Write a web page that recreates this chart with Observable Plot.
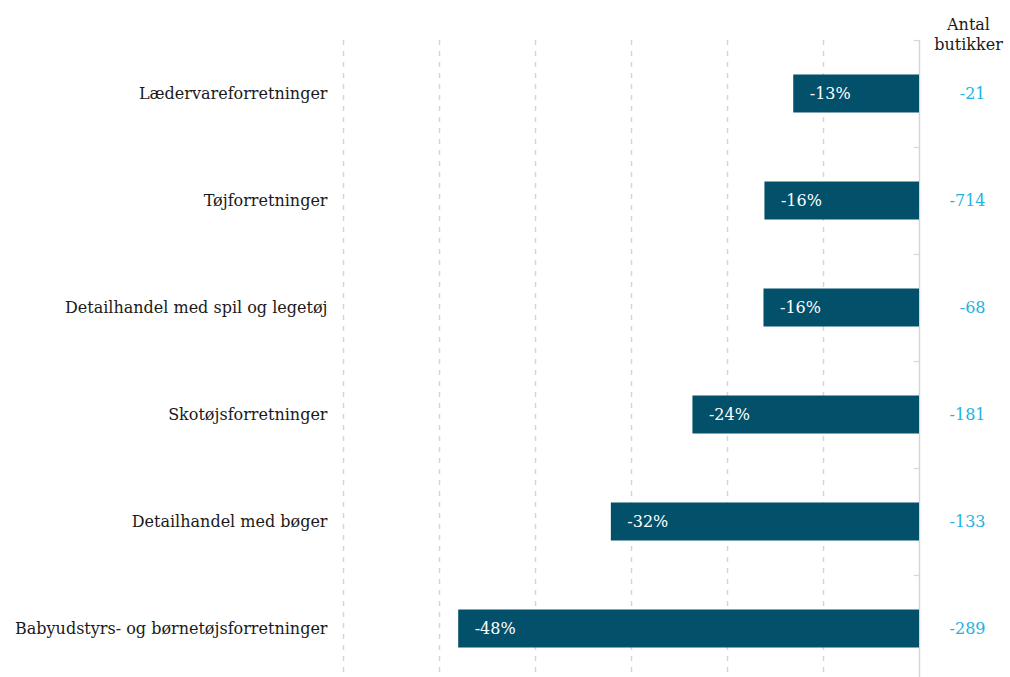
<!DOCTYPE html>
<html>
<head>
<meta charset="utf-8">
<script src="https://cdn.jsdelivr.net/npm/d3@7"></script>
<script src="https://cdn.jsdelivr.net/npm/@observablehq/plot@0.6"></script>
<style>
  html, body { margin: 0; padding: 0; background: #fff; overflow: hidden; }
  #chart svg { display: block; }
</style>
</head>
<body>
<div id="chart"></div>
<script>
const categories = [
  "Lædervareforretninger",
  "Tøjforretninger",
  "Detailhandel med spil og legetøj",
  "Skotøjsforretninger",
  "Detailhandel med bøger",
  "Babyudstyrs- og børnetøjsforretninger"
];
const changePct = [-13.1, -16.1, -16.2, -23.6, -32.1, -48.0];
const pctLabels = ["-13%", "-16%", "-16%", "-24%", "-32%", "-48%"];
const storeCounts = ["-21", "-714", "-68", "-181", "-133", "-289"];
const gridTicks = [-60, -50, -40, -30, -20, -10];
const headerLabel = "Antal\nbutikker";

const data = categories.map((c, i) => ({
  category: c, value: changePct[i], label: pctLabels[i], count: storeCounts[i]
}));

const font = "'DejaVu Serif', Georgia, serif";
const fs = 16;

const chart = Plot.plot({
  width: 1010,
  height: 682,
  marginLeft: 343,
  marginRight: 91,
  marginTop: 40,
  marginBottom: 0,
  style: { fontFamily: font, fontSize: fs + "px", color: "#1a1a1a", background: "#fff" },
  x: { domain: [-60, 0], axis: null },
  y: { domain: categories, padding: 0, label: null },
  marks: [
    Plot.ruleX(gridTicks, { stroke: "#d6d6d6", strokeWidth: 1.5, strokeDasharray: "5,6" }),
    Plot.ruleX([0], { stroke: "#d6d6d6", strokeWidth: 1.5 }),
    Plot.ruleY(categories, { y: d => d, dy: -53.5, x1: -0.55, x2: 0, stroke: "#d6d6d6", strokeWidth: 1.2 }),
    Plot.barX(data, { x: "value", y: "category", fill: "#02506a", insetTop: 34.5, insetBottom: 34.5 }),
    Plot.text(data, { x: "value", y: "category", text: "label", dx: 16, textAnchor: "start", fill: "#fff", fontSize: fs }),
    Plot.text(data, { x: 0, y: "category", text: "count", dx: 66, textAnchor: "end", fill: "#1db4e2", fontSize: fs }),
    Plot.text([headerLabel], { x: 0, frameAnchor: "top", dx: 49, dy: -25, lineAnchor: "top", lineHeight: 1.25, text: d => d, fill: "#1a1a1a", fontSize: fs }),
    Plot.axisY({ tickSize: 0, tickPadding: 16, fontSize: fs, label: null, fill: "#1a1a1a" })
  ]
});
document.getElementById("chart").appendChild(chart);
</script>
</body>
</html>
